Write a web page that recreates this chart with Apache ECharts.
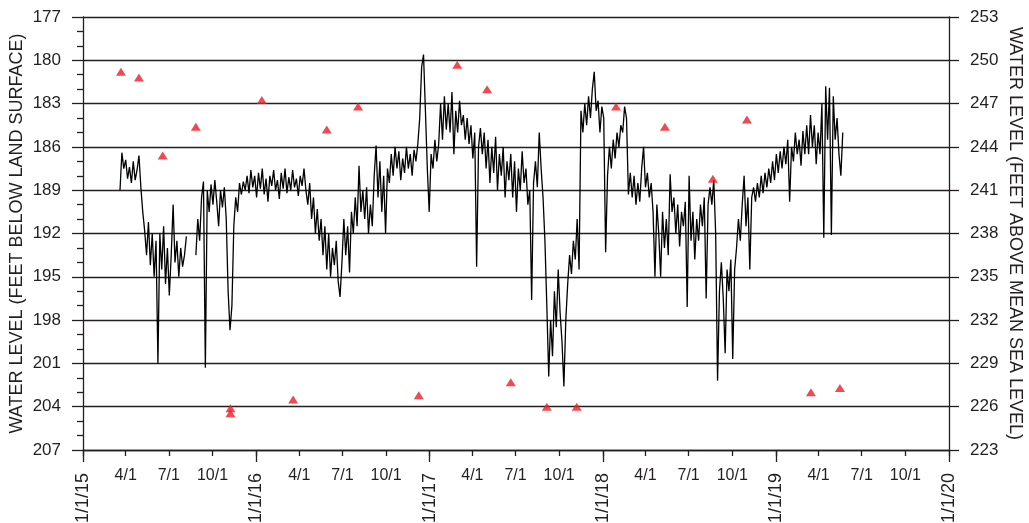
<!DOCTYPE html>
<html>
<head>
<meta charset="utf-8">
<script src="https://cdn.jsdelivr.net/npm/echarts@6/dist/echarts.min.js"></script>
<style>
html,body{margin:0;padding:0;background:#fff;}
#chart{width:1029px;height:523px;}
</style>
</head>
<body>
<div id="chart"></div>
<script>
// ---- data ----
const lineStart = '2015-03-20';
const lineStepDays = 4;
const depthValues = [
189.0,186.4,187.5,186.9,188.2,187.4,188.5,187.0,188.3,187.6,186.6,
188.8,190.5,191.8,193.5,191.2,194.2,192.0,195.0,192.5,201.0,
192.0,194.5,191.5,195.5,193.0,196.3,193.5,190.0,194.0,192.5,195.0,193.0,194.3,193.5,192.2,
null,null,null,null,
193.5,191.0,192.5,189.5,188.4,201.3,189.0,
190.5,188.6,190.0,188.3,189.8,191.5,189.0,190.2,188.8,191.0,196.0,198.7,197.0,191.5,189.5,190.5,188.5,189.3,188.4,
189.0,188.0,189.2,187.6,188.8,188.0,189.5,187.8,188.9,187.5,189.3,188.2,189.8,188.0,188.7,187.6,189.0,188.3,189.6,187.8,188.9,187.5,189.2,188.1,189.0,187.6,188.8,188.2,189.4,188.0,188.7,187.5,189.0,
190.0,188.5,191.0,189.5,192.0,190.3,192.5,191.0,193.5,191.5,194.5,192.0,195.0,193.0,194.2,192.5,195.3,196.4,194.0,
191.0,193.5,191.5,194.7,190.5,192.0,189.5,191.5,187.3,190.5,189.0,191.0,188.8,192.0,190.0,191.5,
188.0,185.9,189.5,187.0,190.5,188.0,192.0,187.5,188.5,
186.5,188.0,186.0,187.5,186.3,188.3,186.8,187.8,186.0,187.5,186.5,188.0,186.2,187.0,
185.8,184.0,180.5,179.6,183.5,187.5,190.5,186.5,
187.5,185.5,187.0,185.8,
183.0,185.5,182.5,184.8,183.0,185.0,182.2,186.5,183.5,185.0,182.8,184.5,183.8,185.5,184.0,185.8,
184.5,186.8,185.0,194.3,186.0,
184.7,186.5,185.0,187.5,185.5,188.5,186.0,187.8,185.3,189.0,186.5,188.0,186.0,189.5,187.0,188.3,
186.5,189.5,187.0,190.5,187.5,189.0,186.3,188.5,187.5,190.0,189.0,
196.6,
188.5,187.0,188.8,185.0,187.5,189.5,
192.5,197.0,201.9,198.0,200.5,196.0,198.5,194.5,197.5,199.5,202.6,198.0,
195.5,193.5,194.8,192.5,193.8,191.0,194.5,
183.5,185.0,183.0,184.5,182.5,184.0,182.0,180.8,183.5,182.8,185.0,183.2,184.0,193.3,
188.0,186.0,187.5,185.5,186.8,185.0,186.0,184.5,185.0,183.2,184.0,
189.3,
187.8,189.5,188.0,190.0,188.5,189.8,187.5,186.0,188.8,187.8,189.5,188.5,
190.5,195.0,190.0,192.0,195.0,190.5,193.0,191.0,193.5,
187.9,190.5,189.5,192.0,190.0,192.9,190.5,191.5,189.8,
197.1,188.0,192.5,190.5,193.8,191.0,192.5,
190.0,191.5,189.5,196.5,190.0,188.8,190.0,188.3,
192.0,202.2,
196.0,194.0,196.5,200.3,194.5,196.0,193.8,200.7,194.5,
193.0,191.0,192.5,190.0,188.0,191.5,189.5,194.5,189.5,
188.8,189.8,188.5,189.5,188.0,189.2,187.8,188.8,187.5,188.5,187.0,188.3,186.5,187.8,186.3,187.5,186.0,187.2,
185.5,189.8,186.0,187.0,185.0,186.5,185.5,187.3,184.9,186.5,184.5,
186.5,183.8,186.0,184.5,187.2,185.0,186.5,183.0,192.3,181.8,185.5,181.9,192.1,182.5,185.5,184.0,186.5,188.0,185.0
];

const manualDates = ['2015-03-22','2015-04-29','2015-06-18','2015-08-27','2015-11-08','2015-11-08','2016-01-13','2016-03-19','2016-05-29','2016-08-03','2016-12-09','2017-02-28','2017-05-02','2017-06-21','2017-09-05','2017-11-07','2018-01-29','2018-05-12','2018-08-21','2018-11-01','2019-03-16','2019-05-16'];
const manualValues = [180.8,181.2,186.6,184.6,204.1,204.45,182.75,203.5,184.8,183.2,203.2,180.3,182.0,202.3,204.0,204.0,183.2,184.6,188.2,184.1,203.0,202.7];

const depthTicks = [177,180,183,186,189,192,195,198,201,204,207];
const altitudeTicks = ['253','250','247','244','241','238','235','232','229','226','223'];
const quarterTickDates = [];
['2015','2016','2017','2018','2019'].forEach(y => ['01','04','07','10'].forEach(m => quarterTickDates.push(y + '-' + m + '-01')));
quarterTickDates.push('2020-01-01');
const quarterLabelDates = quarterTickDates.filter(d => d.slice(5,7) !== '01');
const yearTickDates = ['2015-01-01','2016-01-01','2017-01-01','2018-01-01','2019-01-01','2020-01-01'];
const yearTickLabels = ['1/1/15','1/1/16','1/1/17','1/1/18','1/1/19','1/1/20'];
const quarterLabelByMonth = {3:'4/1', 6:'7/1', 9:'10/1'};

const leftName = 'WATER LEVEL (FEET BELOW LAND SURFACE)';
const rightName = 'WATER LEVEL (FEET ABOVE MEAN SEA LEVEL)';

// ---- build ----
const DAY = 86400000;
const t0 = Date.parse(lineStart);
const lineData = depthValues.map((v, i) => [t0 + i * lineStepDays * DAY, v]);
const manualData = manualDates.map((d, i) => [Date.parse(d), manualValues[i]]);
const xMin = Date.parse('2015-01-01');
const xMax = Date.parse('2020-01-01');
const yearTickTimes = yearTickDates.map(d => Date.parse(d));

const ink = '#231f20';
const narrow = '"Liberation Sans Narrow","Arial Narrow","Liberation Sans",sans-serif';
const regular = '"Liberation Sans",Arial,sans-serif';

const chart = echarts.init(document.getElementById('chart'), null, {renderer: 'canvas'});
chart.setOption({
  animation: false,
  grid: {left: 83, right: 80, top: 17, bottom: 73, containLabel: false, outerBoundsMode: 'none'},
  xAxis: [
    {
      type: 'value', min: xMin, max: xMax, position: 'bottom',
      axisLine: {show: true, lineStyle: {color: ink, width: 1.3}},
      axisTick: {show: true, length: 6, lineStyle: {color: ink, width: 1.3},
        customValues: quarterTickDates.map(d => Date.parse(d))},
      axisLabel: {show: true, margin: 18, color: ink, fontFamily: narrow, fontSize: 16,
        customValues: quarterLabelDates.map(d => Date.parse(d)),
        formatter: v => quarterLabelByMonth[new Date(v).getUTCMonth()] || ''},
      splitLine: {show: false}
    },
    {
      type: 'value', min: xMin, max: xMax, position: 'bottom', offset: 0,
      axisLine: {show: false},
      axisTick: {show: true, length: 12, lineStyle: {color: ink, width: 1.3},
        customValues: yearTickTimes},
      axisLabel: {show: true, margin: 23, rotate: 90, color: ink, fontFamily: regular, fontSize: 18,
        showMinLabel: true, showMaxLabel: true,
        customValues: yearTickTimes,
        formatter: v => yearTickLabels[yearTickTimes.indexOf(v)] || ''},
      splitLine: {show: false}
    }
  ],
  yAxis: [
    {
      type: 'value', min: 177, max: 207, interval: 3, inverse: true, position: 'left',
      name: leftName, nameLocation: 'middle', nameGap: 57, nameMoveOverlap: false,
      nameTextStyle: {color: ink, fontFamily: regular, fontSize: 18},
      axisLine: {show: true, lineStyle: {color: ink, width: 1.3}},
      axisTick: {show: true, length: 11, lineStyle: {color: ink, width: 1.3}},
      minorTick: {show: true, splitNumber: 3, length: 6, lineStyle: {color: ink, width: 1.3}},
      axisLabel: {margin: 22, color: ink, fontFamily: regular, fontSize: 17,
        formatter: v => String(depthTicks[depthTicks.indexOf(v)])},
      splitLine: {show: true, lineStyle: {color: ink, width: 1.3}}
    },
    {
      type: 'value', min: 177, max: 207, interval: 3, inverse: true, position: 'right',
      name: rightName, nameLocation: 'middle', nameGap: 57, nameRotate: -90, nameMoveOverlap: false,
      nameTextStyle: {color: ink, fontFamily: regular, fontSize: 18},
      axisLine: {show: true, lineStyle: {color: ink, width: 1.3}},
      axisTick: {show: true, length: 10, lineStyle: {color: ink, width: 1.3}},
      axisLabel: {margin: 21, color: ink, fontFamily: narrow, fontSize: 17,
        formatter: v => altitudeTicks[depthTicks.indexOf(v)]},
      splitLine: {show: false}
    }
  ],
  series: [
    {
      type: 'line', xAxisIndex: 0, yAxisIndex: 0, data: lineData,
      showSymbol: false, connectNulls: false,
      lineStyle: {color: '#000', width: 1.3}, z: 3
    },
    {
      type: 'scatter', xAxisIndex: 0, yAxisIndex: 0, data: manualData,
      symbol: 'triangle', symbolSize: [10, 8],
      itemStyle: {color: '#ee1c25'}, z: 4
    }
  ]
});
</script>
</body>
</html>
